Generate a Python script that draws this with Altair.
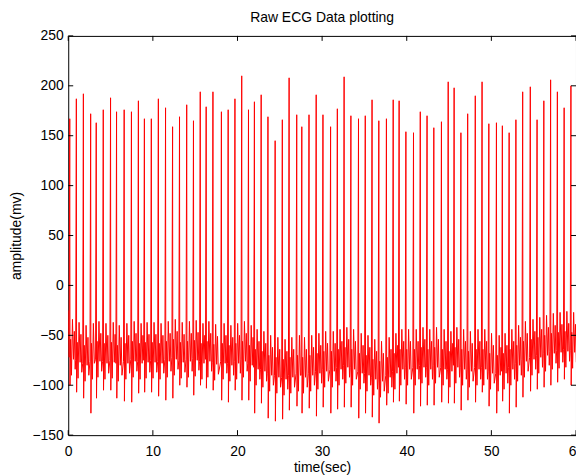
import altair as alt
import pandas as pd

# R-peak times (s), peak heights, S-trough depths and local baseline per beat
beat_t = [0.18, 0.96, 1.79, 2.65, 3.31, 4.14, 5.0, 5.71, 6.61, 7.47, 8.29, 9.0, 9.82,
          10.65, 11.5, 12.33, 13.15, 14.0, 14.8, 15.6, 16.3, 17.1, 18.1, 18.9, 19.7,
          20.5, 21.3, 22.0, 22.8, 23.6, 24.45, 25.3, 26.1, 27.0, 27.6, 28.45, 29.3, 30.1,
          31.0, 31.8, 32.6, 33.4, 34.3, 35.1, 35.9, 36.7, 37.6, 38.4, 39.1, 39.9,
          40.8, 41.6, 42.4, 43.2, 44.1, 44.9, 45.6, 46.4, 47.2, 48.1, 48.9, 49.7,
          50.6, 51.3, 52.1, 52.9, 53.7, 54.6, 55.4, 56.2, 57.0, 57.8, 58.6, 59.4]
peak_v = [167, 187, 192, 172, 163, 176, 188, 174, 176, 174, 185, 167, 167,
          187, 178, 159, 169, 181, 165, 194, 179, 194, 174, 176, 187,
          210, 176, 184, 191, 169, 145, 166, 208, 171, 159, 171, 191, 171,
          159, 177, 209, 170, 167, 170, 186, 165, 167, 186, 185, 154,
          153, 174, 170, 158, 164, 204, 198, 153, 172, 190, 204, 162,
          163, 160, 153, 166, 194, 199, 166, 185, 206, 194, 178, 200]
trough_v = [-100, -107, -113, -128, -113, -105, -105, -113, -116, -117, -108, -107, -107,
            -111, -115, -113, -100, -102, -110, -100, -103, -105, -115, -117, -105,
            -115, -115, -128, -118, -133, -136, -134, -125, -121, -128, -123, -131, -122,
            -128, -124, -122, -122, -133, -128, -132, -138, -120, -117, -116, -119,
            -128, -121, -120, -120, -117, -118, -118, -125, -115, -117, -107, -121,
            -128, -116, -128, -122, -112, -106, -104, -102, -100, -97, -94, -100]
base_v = [-62, -65, -68, -66, -64, -66, -65, -68, -66, -64, -66, -65,
          -65, -66, -64, -62, -65, -64, -63, -66, -64, -67, -66, -68, -66,
          -64, -68, -72, -74, -78, -80, -82, -80, -78, -80, -78, -76, -74,
          -74, -72, -70, -72, -76, -78, -82, -84, -80, -76, -72, -72,
          -72, -70, -72, -70, -72, -74, -70, -72, -74, -72, -72, -76,
          -78, -76, -72, -68, -64, -62, -60, -58, -56, -55, -54, -55]

# wiggle pattern around the baseline between beats (offset from R in s, level vs baseline)
pre_dt = [-0.08]
pre_dv = [-10]
post_dt = [0.10, 0.20, 0.32, 0.44, 0.54, 0.64]
post_dv = [8, -28, 28, -12, 16, -22]

x_ticks = [0, 10, 20, 30, 40, 50, 60]
y_ticks = [-150, -100, -50, 0, 50, 100, 150, 200, 250]

rows = [(0.0, -25.0)]
for i, t in enumerate(beat_t):
    b = base_v[i]
    nxt = beat_t[i + 1] if i + 1 < len(beat_t) else 60.6
    for dt, dv in zip(pre_dt, pre_dv):
        if t + dt > rows[-1][0]:
            rows.append((t + dt, b + dv))
    rows.append((t, peak_v[i]))
    rows.append((t + 0.03, trough_v[i]))
    for dt, dv in zip(post_dt, post_dv):
        if t + dt < nxt - 0.12:
            rows.append((t + dt, b + dv))
df = pd.DataFrame(rows, columns=["t", "v"])
df["i"] = range(len(df))

W, H = 510, 401
FONT = "Liberation Sans"
FS = 14

xs = alt.Scale(domain=[0, 60], nice=False, zero=False)
ys = alt.Scale(domain=[-150, 250], nice=False, zero=False)
x_axis = alt.Axis(values=x_ticks, title="time(sec)", grid=False, ticks=False, domain=False,
                  labelFlush=False, labelOverlap=False, labelPadding=9, titlePadding=3,
                  format="d")
y_axis = alt.Axis(values=y_ticks, title="amplitude(mv)", grid=False, ticks=False, domain=False,
                  labelFlush=False, labelOverlap=False, labelPadding=5, titlePadding=8,
                  format="d")

line = alt.Chart(df).mark_line(color="#ff0000", strokeWidth=1, clip=True).encode(
    x=alt.X("t:Q", scale=xs, axis=x_axis),
    y=alt.Y("v:Q", scale=ys, axis=y_axis),
    order="i:Q",
)

xt = pd.DataFrame({"t": x_ticks})
yt = pd.DataFrame({"v": y_ticks})
tick_style = dict(color="black", strokeWidth=1)
xb = alt.Chart(xt).mark_rule(**tick_style).encode(
    x=alt.X("t:Q", scale=xs, axis=x_axis), y=alt.value(H), y2=alt.value(H - 5))
xtop = alt.Chart(xt).mark_rule(**tick_style).encode(
    x=alt.X("t:Q", scale=xs, axis=x_axis), y=alt.value(0), y2=alt.value(5))
yl = alt.Chart(yt).mark_rule(**tick_style).encode(
    y=alt.Y("v:Q", scale=ys, axis=y_axis), x=alt.value(0), x2=alt.value(5))
yr = alt.Chart(yt).mark_rule(**tick_style).encode(
    y=alt.Y("v:Q", scale=ys, axis=y_axis), x=alt.value(W), x2=alt.value(W - 5))

chart = alt.layer(line, xb, xtop, yl, yr).properties(
    width=W, height=H,
    title=alt.TitleParams("Raw ECG Data plotting", font=FONT, fontSize=FS,
                          fontWeight="normal", color="black", offset=4),
    autosize=alt.AutoSizeParams(type="none"),
    padding={"left": 60.5, "top": 27, "right": 0, "bottom": 39},
    background="white",
).configure_view(stroke="black", strokeWidth=1).configure_axis(
    labelFont=FONT, labelFontSize=FS, labelColor="black",
    titleFont=FONT, titleFontSize=FS, titleFontWeight="normal", titleColor="black",
)

chart.save("out.html", embed_options={"renderer": "svg", "actions": False})
